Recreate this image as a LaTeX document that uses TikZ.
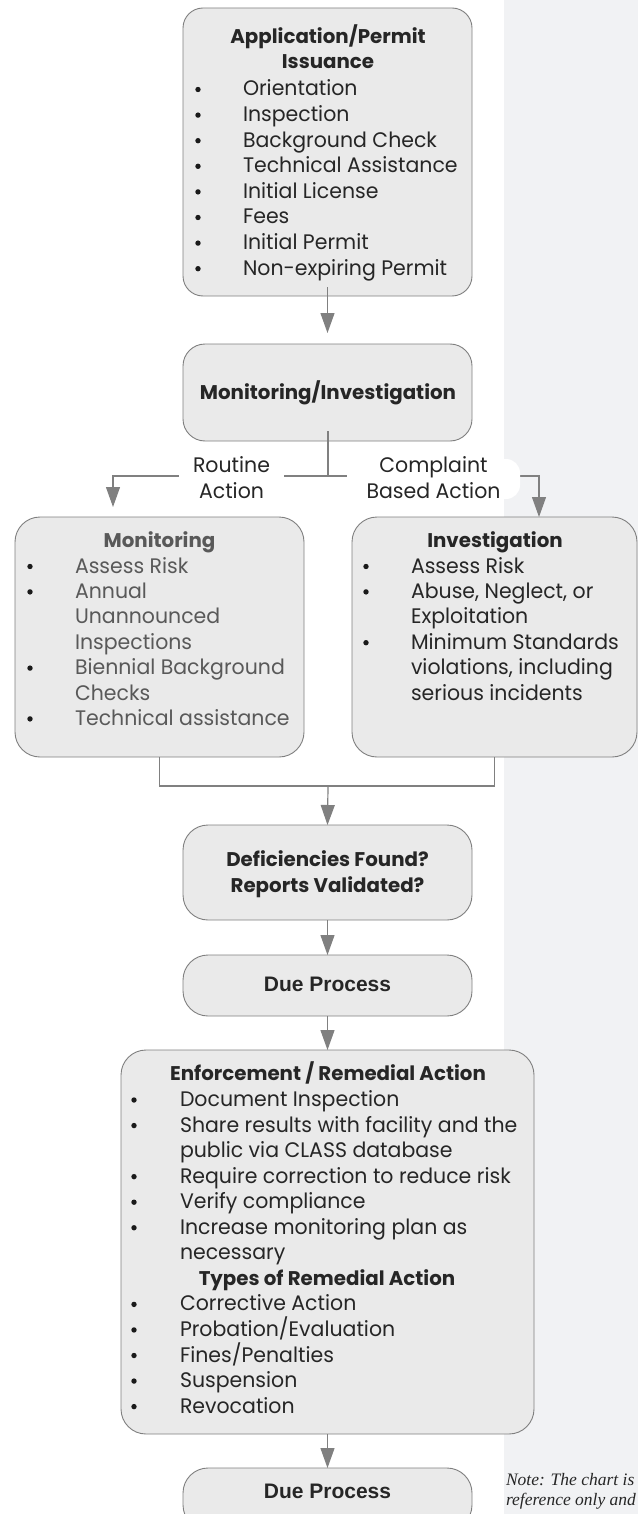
\documentclass[tikz,border=0pt]{standalone}
\usepackage{fontspec}
\usetikzlibrary{arrows.meta}
\newfontfamily\cg{Poppins}
\newfontfamily\cgr{Poppins}[FakeStretch=0.975]
\newfontfamily\lib{Liberation Sans}
\newfontfamily\notef{Liberation Serif}
\definecolor{panel}{HTML}{F1F2F4}
\definecolor{boxfill}{HTML}{EAEAEA}
\definecolor{boxline}{HTML}{7F7F7F}
\definecolor{arrcol}{HTML}{808080}
\definecolor{txt}{HTML}{262626}
\definecolor{montxt}{HTML}{595959}
\definecolor{bulc}{HTML}{1A1A1A}
\newcommand\isz{21}
\newcommand\tsz{19.8}
\tikzset{
  every node/.style={inner sep=0pt, outer sep=0pt},
  box/.style={draw=boxline, fill=boxfill, line width=0.9pt, rounded corners=#1},
  box/.default=25pt,
  itm/.style={anchor=base west, text=txt, font=\cgr\fontsize{\isz}{24}\selectfont},
  ttl/.style={anchor=base, text=txt, font=\cg\bfseries\fontsize{\tsz}{24}\selectfont},
  lbl/.style={anchor=base, text=txt, font=\cgr\fontsize{\isz}{24}\selectfont},
  duet/.style={anchor=base, text=txt, font=\lib\bfseries\fontsize{21}{24}\selectfont},
  notet/.style={anchor=base west, text=txt, font=\notef\itshape\fontsize{17.5}{20}\selectfont},
  bul/.style={fill=bulc},
  ln/.style={draw=arrcol, line width=1.2pt},
  arr/.style={ln, -{Triangle[width=14pt,length=20pt]}},
}
\begin{document}
\begin{tikzpicture}[x=1pt,y=-1pt]
\useasboundingbox (0,0) rectangle (638,1514);
\clip (0,0) rectangle (638,1514);
\fill[panel] (504,0) rectangle (638,1514);

% boxes
\node[box=20pt, minimum width=289pt, minimum height=288pt] (b1) at (327.5,152) {};
\node[box=22pt, minimum width=289pt, minimum height=97pt] (b2) at (327.5,392.5) {};
\node[box, minimum width=289pt, minimum height=240pt] (mon) at (159.5,637) {};
\node[box, minimum width=285pt, minimum height=240pt] (inv) at (494.5,637) {};
\node[box, minimum width=289pt, minimum height=95pt] (def) at (327.5,872.5) {};
\node[box, minimum width=289pt, minimum height=61pt] (due1) at (327.5,985.5) {};
\node[box, minimum width=413pt, minimum height=384pt] (enf) at (327.5,1242) {};
\node[box, minimum width=289pt, minimum height=62pt] (due2) at (327.5,1499) {};

% connectors
\draw[arr, shorten <=-9pt, shorten >=11pt] (b1.south) -- (b2.north);
\coordinate (br) at (328,476);
\coordinate (lt) at (113,517);
\coordinate (rt) at (539,517);
\draw[ln, shorten <=-10pt] (b2.south -| br) -- (br);
\draw[arr, shorten >=10pt] (br) -| (lt);
\draw[arr] (br) -| (rt);
\coordinate (mg) at (328,786);
\draw[ln] (mon.south) |- (mg) -| (inv.south);
\draw[arr] (mg) -- (def.north);
\draw[arr] (def.south) -- (due1.north);
\draw[arr] (due1.south) -- (enf.north);
\draw[arr] (enf.south) -- (due2.north);

% branch labels
\node[fill=white, minimum width=105pt, minimum height=44pt] (rbg) at (231.5,479) {};
\node[fill=white, rounded corners=14pt, minimum width=173pt, minimum height=40pt] (cbg) at (433.5,479) {};
\node[lbl] (r1) at (231.5,472.7) {Routine};
\node[lbl] (r2) at (231.5,498) {Action};
\node[lbl] (c1) at (433.5,472.7) {Complaint};
\node[lbl] (c2) at (433.5,498) {Based Action};

% box 1
\node[ttl] (t1a) at (328,43.3) {Application/Permit};
\node[ttl] (t1b) at (328,68.3) {Issuance};
\foreach \t [count=\i from 0] in {Orientation, Inspection, Background Check, Technical Assistance, Initial License, Fees, Initial Permit, Non-expiring Permit} {
  \node[itm] (ap\i) at (243,{96+25.6*\i}) {\t};
  \fill[bul] (198,{89.5+25.6*\i}) circle[radius=2.7pt];
}
% box 2
\node[ttl] (t2) at (328,399) {Monitoring/Investigation};
% monitoring
\node[ttl, text=montxt] (tm) at (159.5,547) {Monitoring};
\foreach \b/\t [count=\i from 0] in {1/Assess Risk, 1/Annual, 0/Unannounced, 0/Inspections, 1/Biennial Background, 0/Checks, 1/Technical assistance} {
  \node[itm, text=montxt] (mo\i) at (75,{573+25.4*\i}) {\t};
  \ifnum\b=1 \fill[bul] (30,{566.5+25.4*\i}) circle[radius=2.7pt];\fi
}
% investigation
\node[ttl] (ti) at (495,547) {Investigation};
\foreach \b/\t [count=\i from 0] in {1/Assess Risk, 1/{Abuse, Neglect, or}, 0/Exploitation, 1/Minimum Standards, 0/{violations, including}, 0/serious incidents} {
  \node[itm] (iv\i) at (411,{573+25.4*\i}) {\t};
  \ifnum\b=1 \fill[bul] (366,{566.5+25.4*\i}) circle[radius=2.7pt];\fi
}
% deficiencies
\node[ttl] (d1) at (327.5,866.7) {Deficiencies Found?};
\node[ttl] (d2) at (327.5,892) {Reports Validated?};
\node[duet] (dp1) at (327.5,991.7) {Due Process};
% enforcement
\node[ttl] (te) at (328,1080) {Enforcement / Remedial Action};
\foreach \b/\t [count=\i from 0] in {1/Document Inspection, 1/Share results with facility and the, 0/public via CLASS database, 1/Require correction to reduce risk, 1/Verify compliance, 1/Increase monitoring plan as, 0/necessary, 2/x, 1/Corrective Action, 1/{Probation/Evaluation}, 1/{Fines/Penalties}, 1/Suspension, 1/Revocation} {
  \ifnum\b<2 \node[itm] (en\i) at (180,{1106.5+25.55*\i}) {\t};\fi
  \ifnum\b=1 \fill[bul] (134,{1100+25.55*\i}) circle[radius=2.7pt];\fi
}
\node[ttl] (tt) at (327,{1106.5+25.55*7}) {Types of Remedial Action};
\node[duet] (dp2) at (327.5,1498) {Due Process};
% note
\node[notet] (n1) at (506,1485) {Note: The chart is};
\node[notet] (n2) at (506,1505) {reference only and};
\end{tikzpicture}
\end{document}
